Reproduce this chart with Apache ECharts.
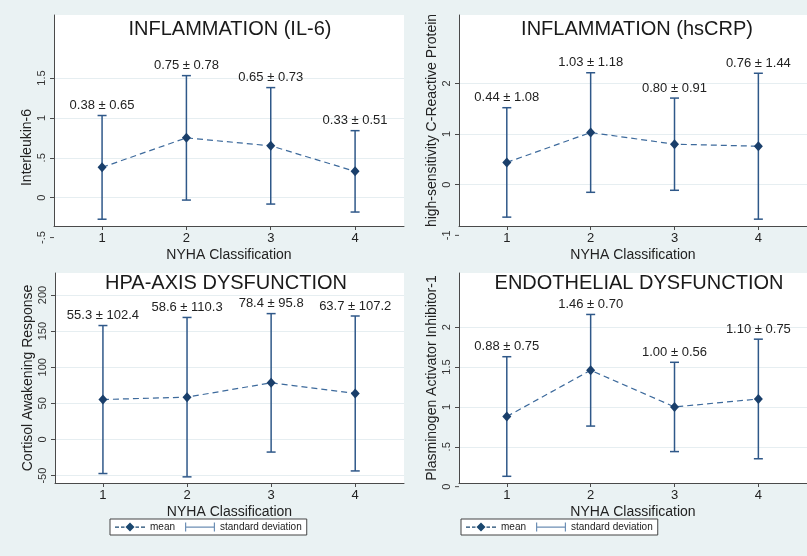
<!DOCTYPE html>
<html><head><meta charset="utf-8">
<script src="https://cdn.jsdelivr.net/npm/echarts@6/dist/echarts.min.js"></script>
<style>html,body{margin:0;padding:0;background:#eaf2f3}#c{width:807px;height:556px}</style>
</head><body><div id="c"></div>
<script>
// ---- data ----
const nyha = [1, 2, 3, 4];
const il6Mean = [0.38, 0.75, 0.65, 0.33];
const il6Sd   = [0.65, 0.78, 0.73, 0.51];
const crpMean = [0.44, 1.03, 0.80, 0.76];
const crpSd   = [1.08, 1.18, 0.91, 1.44];
const carMean = [55.3, 58.6, 78.4, 63.7];
const carSd   = [102.4, 110.3, 95.8, 107.2];
const paiMean = [0.88, 1.46, 1.00, 1.10];
const paiSd   = [0.75, 0.70, 0.56, 0.75];
const il6Ticks = [0, 0.5, 1, 1.5];
const crpTicks = [0, 1, 2];
const carTicks = [-50, 0, 50, 100, 150, 200];
const paiTicks = [0.5, 1, 1.5, 2];
const il6Extra = [-0.5];
const crpExtra = [-1];
const carExtra = [];
const paiExtra = [0];
const titles = ['INFLAMMATION (IL-6)', 'INFLAMMATION (hsCRP)', 'HPA-AXIS DYSFUNCTION', 'ENDOTHELIAL DYSFUNCTION'];
const yNames = ['Interleukin-6', 'high-sensitivity C-Reactive Protein', 'Cortisol Awakening Response', 'Plasminogen Activator Inhibitor-1'];
const xName = 'NYHA Classification';

const FONT = "'Liberation Sans', Arial, Helvetica, sans-serif";
const XMIN = 0.43, XMAX = 4.58;
const fmt = v => String(v).replace(/^(-?)0\./, '$1.');

const panels = [
  {mean: il6Mean, sd: il6Sd, dec: 2, ticks: il6Ticks, extra: il6Extra, ymin: -0.355, ymax: 2.29,
   grid: {left: 54, top: 15, width: 350, height: 211}, tx: 230, ty: 29, namePad: [0, 54, 0, 0]},
  {mean: crpMean, sd: crpSd, dec: 2, ticks: crpTicks, extra: crpExtra, ymin: -0.815, ymax: 3.35,
   grid: {left: 459, top: 15, width: 349, height: 211}, tx: 637, ty: 29, namePad: [0, 0, 0, 0]},
  {mean: carMean, sd: carSd, dec: 1, ticks: carTicks, extra: carExtra, ymin: -60.2, ymax: 230.4,
   grid: {left: 55, top: 273, width: 349, height: 210}, tx: 226, ty: 283, namePad: [0, 0, 0, 0]},
  {mean: paiMean, sd: paiSd, dec: 2, ticks: paiTicks, extra: paiExtra, ymin: 0.046, ymax: 2.68,
   grid: {left: 459, top: 273, width: 349, height: 210}, tx: 639, ty: 283, namePad: [0, 0, 0, 0]}
];

const grids = [], xAxes = [], yAxes = [], series = [], graphics = [];
const axisColor = '#4a4a4a';

panels.forEach((p, i) => {
  grids.push(Object.assign({show: true, backgroundColor: '#ffffff', borderWidth: 0}, p.grid));
  xAxes.push({
    gridIndex: i, type: 'value', min: XMIN, max: XMAX,
    name: xName, nameLocation: 'middle', nameGap: 22,
    nameTextStyle: {fontSize: 14, color: '#222', fontFamily: FONT},
    axisLine: {show: true, onZero: false, lineStyle: {color: axisColor, width: 1}},
    axisTick: {show: true, length: 4, customValues: nyha, lineStyle: {color: axisColor}},
    axisLabel: {customValues: nyha, fontSize: 13, margin: 6, color: '#222', fontFamily: FONT},
    splitLine: {show: false}
  });
  yAxes.push({
    gridIndex: i, type: 'value', min: p.ymin, max: p.ymax,
    name: yNames[i], nameLocation: 'middle', nameGap: 20,
    nameTextStyle: {fontSize: 14, color: '#222', fontFamily: FONT, padding: p.namePad},
    axisLine: {show: true, onZero: false, lineStyle: {color: axisColor, width: 1}},
    axisTick: {show: true, length: 4, customValues: p.ticks, lineStyle: {color: axisColor}},
    axisLabel: {customValues: p.ticks, rotate: 90, margin: 7, fontSize: 11, color: '#333',
      fontFamily: FONT, formatter: v => fmt(v)},
    splitLine: {show: true, lineStyle: {color: '#e6eef1', width: 1}}
  });
  const labels = p.mean.map((m, j) => m.toFixed(p.dec) + ' \u00b1 ' + p.sd[j].toFixed(p.dec));
  series.push({
    type: 'custom', name: 'standard deviation', xAxisIndex: i, yAxisIndex: i, z: 2, clip: false,
    data: nyha.map((x, j) => [x, p.mean[j] - p.sd[j], p.mean[j] + p.sd[j]]),
    encode: {x: 0, y: [1, 2]},
    itemStyle: {color: '#2f5889'},
    renderItem: (params, api) => {
      const x = api.value(0);
      const lo = api.coord([x, api.value(1)]);
      const hi = api.coord([x, api.value(2)]);
      const cap = 4.5;
      const st = {stroke: '#2f5889', lineWidth: 1.5, fill: null};
      return {type: 'group', children: [
        {type: 'line', shape: {x1: lo[0], y1: lo[1], x2: hi[0], y2: hi[1]}, style: st},
        {type: 'line', shape: {x1: lo[0] - cap, y1: lo[1], x2: lo[0] + cap, y2: lo[1]}, style: st},
        {type: 'line', shape: {x1: hi[0] - cap, y1: hi[1], x2: hi[0] + cap, y2: hi[1]}, style: st},
        {type: 'text', x: hi[0], y: hi[1] - 10, style: {text: labels[params.dataIndex], textAlign: 'center',
          textVerticalAlign: 'middle', fontSize: 13, fill: '#222', fontFamily: FONT}}
      ]};
    }
  });
  series.push({
    type: 'line', name: 'mean', xAxisIndex: i, yAxisIndex: i, z: 3,
    data: nyha.map((x, j) => [x, p.mean[j]]),
    symbol: 'diamond', symbolSize: [9, 10],
    lineStyle: {type: [6, 4], width: 1.2, color: '#3d6a9c'},
    itemStyle: {color: '#1a3f6b'}
  });
  if (p.extra.length) {
    series.push({
      type: 'custom', name: 'tick', xAxisIndex: i, yAxisIndex: i, z: 1, clip: false, silent: true,
      data: p.extra.map(v => [XMIN, v]),
      encode: {x: 0, y: 1},
      renderItem: (params, api) => {
        const v = api.value(1);
        const c = api.coord([api.value(0), v]);
        return {type: 'group', children: [
          {type: 'line', shape: {x1: c[0] - 4, y1: c[1], x2: c[0], y2: c[1]}, style: {stroke: axisColor, lineWidth: 1}},
          {type: 'text', x: c[0] - 12.5, y: c[1], rotation: Math.PI / 2, style: {text: fmt(v), textAlign: 'center',
            textVerticalAlign: 'middle', fontSize: 11, fill: '#333', fontFamily: FONT}}
        ]};
      }
    });
  }
  graphics.push({type: 'text', x: p.tx, y: p.ty, z: 100,
    style: {text: titles[i], fontSize: 20, fill: '#1a1a1a', textAlign: 'center', textVerticalAlign: 'middle', fontFamily: FONT}});
});

const meanIcon = 'path://M0,4h4v1.2h-4z M6,4h3.5v1.2h-3.5z M15,0L19.5,4.5L15,9L10.5,4.5Z M20.5,4h3.5v1.2h-3.5z M26,4h4v1.2h-4z';
const sdIcon = 'path://M0,0h1.2v9h-1.2z M0,4h30v1.2h-30z M28.8,0h1.2v9h-1.2z';
const legendBase = {
  top: 519, orient: 'horizontal',
  data: [{name: 'mean', icon: meanIcon, itemStyle: {color: '#1a476f'}},
         {name: 'standard deviation', icon: sdIcon, itemStyle: {color: '#6d8fb5'}}],
  itemWidth: 30, itemHeight: 9, itemGap: 10, padding: [3, 5],
  backgroundColor: '#ffffff', borderColor: '#444', borderWidth: 1, borderRadius: 0,
  textStyle: {fontSize: 10, color: '#222', fontFamily: FONT}
};

const chart = echarts.init(document.getElementById('c'), null, {renderer: 'canvas'});
chart.setOption({
  backgroundColor: '#eaf2f3',
  animation: false,
  grid: grids, xAxis: xAxes, yAxis: yAxes, series: series,
  legend: [Object.assign({left: 110}, legendBase), Object.assign({left: 461}, legendBase)],
  graphic: graphics
});
</script></body></html>
